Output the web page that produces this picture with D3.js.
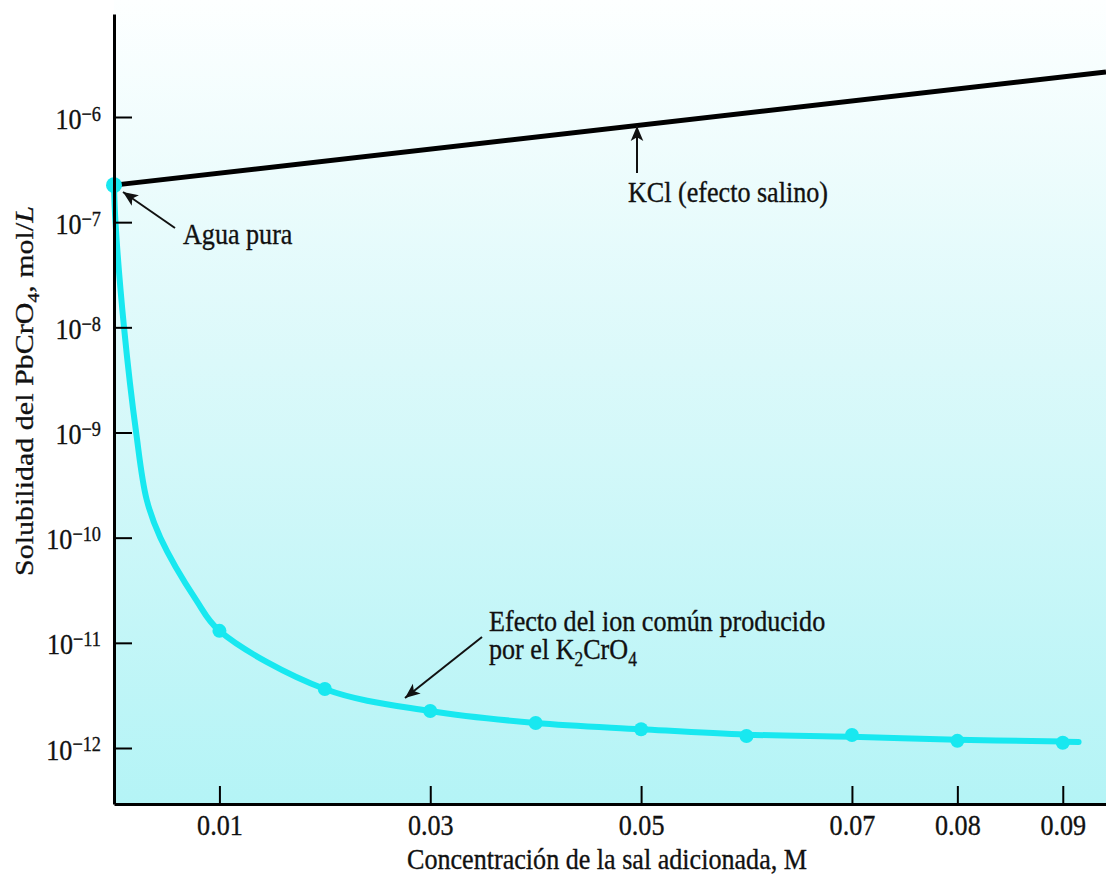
<!DOCTYPE html>
<html>
<head>
<meta charset="utf-8">
<script src="https://cdn.jsdelivr.net/npm/d3@7"></script>
<style>
  html, body { margin: 0; padding: 0; background: #ffffff; }
  svg { display: block; }
  text { font-family: "Liberation Serif", "Times New Roman", serif; fill: #111; stroke: #111; stroke-width: 0.35px; }
</style>
</head>
<body>
<svg id="chart" width="1106" height="874"></svg>
<script>
// ---------- data ----------
const concentrations = [0, 0.01, 0.02, 0.03, 0.04, 0.05, 0.06, 0.07, 0.08, 0.09];
const k2cro4Solubility = [2.25e-7, 1.30e-11, 3.64e-12, 2.25e-12, 1.73e-12, 1.51e-12, 1.30e-12, 1.33e-12, 1.17e-12, 1.12e-12];
// points (line only)
const curveConc = [0, 0.00014, 0.00095, 0.0021, 0.0031, 0.0044, 0.0078, 0.01, 0.02, 0.03, 0.04, 0.05, 0.06, 0.07, 0.08, 0.09, 0.0915];
const curveSolubility = [2.25e-7, 1.0e-7, 1.0e-8, 1.0e-9, 2.3e-10, 1.0e-10, 2.55e-11, 1.30e-11, 3.64e-12, 2.25e-12, 1.73e-12, 1.51e-12, 1.34e-12, 1.28e-12, 1.2e-12, 1.15e-12, 1.14e-12];
// KCl (salt effect) line
const kclConc = [0, 0.0941];
const kclSolubility = [2.25e-7, 2.68e-6];
// ticks
const xTickValues = [0.01, 0.03, 0.05, 0.07, 0.08, 0.09];
const xTickLabels = ["0.01", "0.03", "0.05", "0.07", "0.08", "0.09"];
const yTickExponents = [-6, -7, -8, -9, -10, -11, -12];
const xAxisTitle = "Concentración de la sal adicionada, M";

// ---------- layout ----------
const svg = d3.select("#chart");
const plotLeft = 114, plotRight = 1106, plotTop = 14, plotBottom = 804;
const FS = 30, SX = 0.87;
const cyan = "#18e8f0";

const x = d3.scaleLinear().domain([0, 0.0941]).range([plotLeft, plotRight]);
const y = d3.scaleLog().domain([Math.pow(10, -12.5325), Math.pow(10, -5.0206)]).range([plotBottom, plotTop]);

// background gradient
const defs = svg.append("defs");
const grad = defs.append("linearGradient").attr("id", "bg").attr("x1", 0).attr("y1", 0).attr("x2", 0).attr("y2", 1);
grad.append("stop").attr("offset", "0%").attr("stop-color", "#fdffff");
grad.append("stop").attr("offset", "45%").attr("stop-color", "#dbf9fa");
grad.append("stop").attr("offset", "100%").attr("stop-color", "#b4f4f6");
svg.append("rect").attr("x", plotLeft).attr("y", 0).attr("width", plotRight - plotLeft).attr("height", plotBottom)
  .attr("fill", "url(#bg)");

defs.append("marker").attr("id", "arrow").attr("viewBox", "0 0 10 10")
  .attr("refX", 10).attr("refY", 5).attr("markerWidth", 15).attr("markerHeight", 15)
  .attr("markerUnits", "userSpaceOnUse").attr("orient", "auto")
  .append("path").attr("d", "M0,0.8 L10,5 L0,9.2 L2.5,5 Z").attr("fill", "#111");

// KCl line
svg.append("path")
  .datum(kclConc.map((c, i) => [c, kclSolubility[i]]))
  .attr("fill", "none").attr("stroke", "#000").attr("stroke-width", 5)
  .attr("d", d3.line().x(d => x(d[0])).y(d => y(d[1])));

// K2CrO4 curve
svg.append("path")
  .datum(curveConc.map((c, i) => [c, curveSolubility[i]]))
  .attr("fill", "none").attr("stroke", cyan).attr("stroke-width", 6).attr("stroke-linecap", "round")
  .attr("d", d3.line().x(d => x(d[0])).y(d => y(d[1])).curve(d3.curveCatmullRom.alpha(0.5)));

svg.append("g").selectAll("circle")
  .data(concentrations.map((c, i) => [c, k2cro4Solubility[i]]))
  .join("circle")
  .attr("cx", d => x(d[0])).attr("cy", d => y(d[1]))
  .attr("r", (d, i) => i === 0 ? 8 : 7)
  .attr("fill", cyan);

// axes
const xAxis = svg.append("g").attr("transform", `translate(0,${plotBottom})`)
  .call(d3.axisBottom(x).tickValues(xTickValues).tickSize(-18).tickSizeOuter(0)
    .tickFormat((d, i) => xTickLabels[i]));
xAxis.select(".domain").attr("stroke", "#000").attr("stroke-width", 3);
xAxis.selectAll(".tick line").attr("stroke", "#000").attr("stroke-width", 2);
xAxis.selectAll(".tick text")
  .attr("y", 31).attr("dy", 0).attr("font-size", FS)
  .attr("transform", `scale(${SX},1)`)
  .style("font-family", "'Liberation Serif', 'Times New Roman', serif").attr("fill", "#111");

const yAxis = svg.append("g").attr("transform", `translate(${plotLeft},0)`)
  .call(d3.axisLeft(y).tickValues(yTickExponents.map(e => Math.pow(10, e))).tickSize(-18).tickSizeOuter(0)
    .tickFormat(() => ""));
yAxis.select(".domain").attr("stroke", "#000").attr("stroke-width", 3);
yAxis.selectAll(".tick line").attr("stroke", "#000").attr("stroke-width", 2);
yAxis.selectAll(".tick text").each(function (d, i) {
  const t = d3.select(this);
  t.attr("x", -15).attr("dy", 0).attr("y", 11).attr("text-anchor", "end")
    .attr("font-size", FS).attr("transform", `scale(${SX},1)`)
    .style("font-family", "'Liberation Serif', 'Times New Roman', serif").attr("fill", "#111");
  t.text(null);
  t.append("tspan").text("10");
  t.append("tspan").attr("font-size", 21).attr("dy", -8).text("\u2212" + Math.abs(yTickExponents[i]));
});

// helper for squeezed text
function label(xp, yp, anchor, build, rotate) {
  const t = svg.append("text")
    .attr("transform", `translate(${xp},${yp}) scale(${SX},1)` + (rotate ? ` rotate(${rotate})` : ""))
    .attr("text-anchor", anchor).attr("font-size", FS);
  build(t);
  return t;
}

// axis titles
label(607, 869, "middle", t => t.text(xAxisTitle));
label(33, 391, "middle", t => {
  t.append("tspan").text("Solubilidad del PbCrO");
  t.append("tspan").attr("font-size", 20).attr("dy", 7).text("4");
  t.append("tspan").attr("dy", -7).text(", mol/");
  t.append("tspan").attr("font-style", "italic").text("L");
}, -90);

// annotations
function arrow(x1, y1, x2, y2) {
  svg.append("line").attr("x1", x1).attr("y1", y1).attr("x2", x2).attr("y2", y2)
    .attr("stroke", "#111").attr("stroke-width", 2).attr("marker-end", "url(#arrow)");
}
arrow(175, 228, 123, 192);
label(183, 244, "start", t => t.text("Agua pura"));

arrow(637, 173, 637, 126);
label(628, 202, "start", t => t.text("KCl (efecto salino)"));

arrow(482, 637, 405, 698);
label(489, 631, "start", t => {
  t.append("tspan").attr("x", 0).text("Efecto del ion común producido");
  t.append("tspan").attr("x", 0).attr("dy", 28).text("por el K");
  t.append("tspan").attr("font-size", 20).attr("dy", 7).text("2");
  t.append("tspan").attr("dy", -7).text("CrO");
  t.append("tspan").attr("font-size", 20).attr("dy", 7).text("4");
});
</script>
</body>
</html>
